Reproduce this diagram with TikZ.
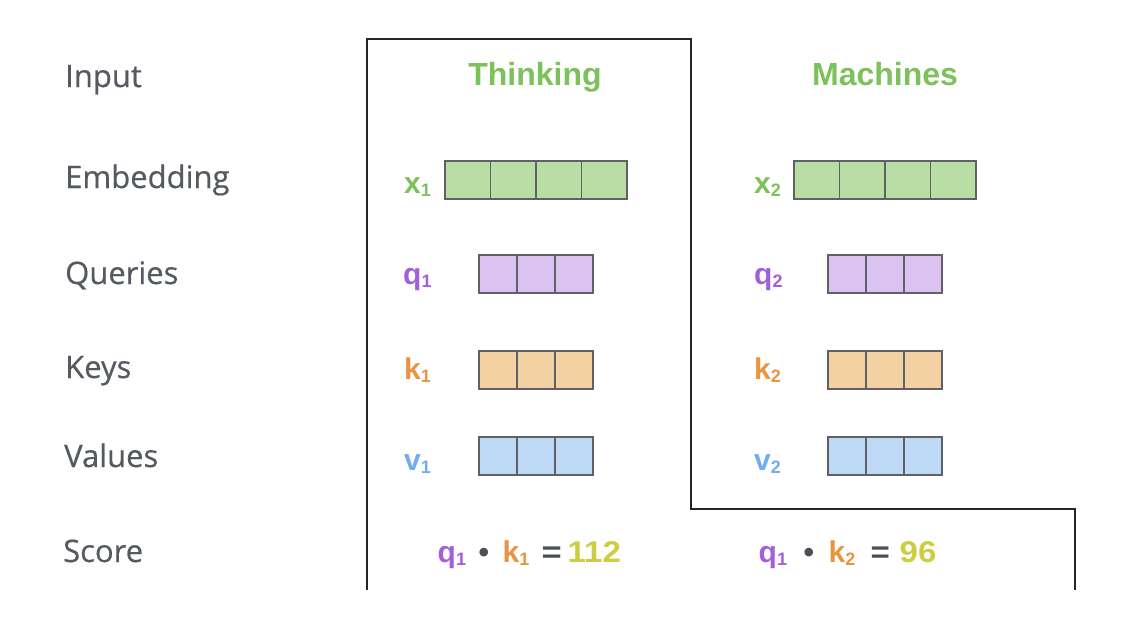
\documentclass[tikz,border=0pt]{standalone}
\usepackage{fontspec}
\newfontfamily\opensans[FakeBold=0.5]{Open Sans}
\newfontfamily\arial{Liberation Sans}
\definecolor{rowlab}{HTML}{555A61}
\definecolor{tgreen}{HTML}{7DC15A}
\definecolor{tpurple}{HTML}{A35FD8}
\definecolor{torange}{HTML}{E8953F}
\definecolor{tblue}{HTML}{6FADF0}
\definecolor{tyellow}{HTML}{CDCD42}
\definecolor{tdark}{HTML}{4A4F55}
\definecolor{fgreen}{HTML}{B9DEA5}
\definecolor{fpurple}{HTML}{DCC2F0}
\definecolor{forange}{HTML}{F3D1A3}
\definecolor{fblue}{HTML}{BFDAF7}
\definecolor{cellborder}{HTML}{5F6166}
\newcommand{\subdig}[1]{\raisebox{-3pt}{\fontsize{18}{18}\selectfont\arial #1}}
\newcommand{\putat}[2]{\makebox[0pt][l]{\hspace{#1pt}#2}}
\begin{document}
\begin{tikzpicture}[x=1pt,y=-1pt,
  rowlabel/.style={anchor=base west,inner sep=0pt,text=rowlab,font=\fontsize{31}{31}\selectfont\opensans},
  title/.style={anchor=base,inner sep=0pt,text=tgreen,font=\fontsize{32}{32}\selectfont\arial\bfseries},
  veclab/.style={anchor=base west,inner sep=0pt,font=\fontsize{30}{30}\selectfont\arial\bfseries},
  scoretxt/.style={anchor=base west,inner sep=0pt,font=\fontsize{30}{30}\selectfont\arial\bfseries},
  cell/.style={draw=cellborder,line width=1.5pt,inner sep=0pt,outer sep=0pt,minimum height=38pt,anchor=north west},
  wcell/.style={cell,minimum width=45.5pt},
  ncell/.style={cell,minimum width=38pt},
  frame/.style={draw=black!85,line width=1.3pt}
]
\useasboundingbox (0,0) rectangle (1148,634);
\fill[white] (0,0) rectangle (1148,634);

% frame
\draw[frame] (367,590) -- (367,39) -- (691,39) -- (691,509) -- (1075,509) -- (1075,590);

% row labels
\node[rowlabel] (lInput) at (65,87) {Input};
\node[rowlabel] (lEmb) at (65,188) {Embedding};
\node[rowlabel] (lQ) at (65,284) {Queries};
\node[rowlabel] (lK) at (65,378) {Keys};
\node[rowlabel] (lV) at (64,467) {Values};
\node[rowlabel] (lS) at (63,562) {Score};

% titles
\node[title] (tThinking) at (535,85) {Thinking};
\node[title] (tMachines) at (885,85) {Machines};

% vector labels
\node[veclab,text=tgreen] (x1) at (404,193) {x\subdig{1}};
\node[veclab,text=tpurple] (q1) at (403,284) {q\subdig{1}};
\node[veclab,text=torange] (k1) at (404,379) {k\subdig{1}};
\node[veclab,text=tblue] (v1) at (404,470) {v\subdig{1}};
\node[veclab,text=tgreen] (x2) at (754,193) {x\subdig{2}};
\node[veclab,text=tpurple] (q2) at (754,284) {q\subdig{2}};
\node[veclab,text=torange] (k2) at (754,379) {k\subdig{2}};
\node[veclab,text=tblue] (v2) at (754,470) {v\subdig{2}};

% cells
\foreach \i in {0,...,3} {
  \node[wcell,fill=fgreen] (xa\i) at ({445+45.5*\i},161) {};
  \node[wcell,fill=fgreen] (xb\i) at ({794+45.5*\i},161) {};
}
\foreach \i in {0,...,2} {
  \node[ncell,fill=fpurple] (qa\i) at ({479+38*\i},255) {};
  \node[ncell,fill=forange] (ka\i) at ({479+38*\i},351) {};
  \node[ncell,fill=fblue] (va\i) at ({479+38*\i},437) {};
  \node[ncell,fill=fpurple] (qb\i) at ({828+38*\i},255) {};
  \node[ncell,fill=forange] (kb\i) at ({828+38*\i},351) {};
  \node[ncell,fill=fblue] (vb\i) at ({828+38*\i},437) {};
}

% scores
\node[scoretxt] (s1) at (437,562) {%
  \putat{0}{\textcolor{tpurple}{q\subdig{1}}}%
  \putat{41}{\textcolor{tdark}{•}}%
  \putat{65}{\textcolor{torange}{k\subdig{1}}}%
  \putat{104}{\textcolor{tdark}{\scalebox{1.15}[1]{=}}}%
  \putat{130}{\textcolor{tyellow}{\scalebox{1.1}[1]{112}}}%
  \hspace{186pt}};
\node[scoretxt] (s2) at (758,562) {%
  \putat{0}{\textcolor{tpurple}{q\subdig{1}}}%
  \putat{45}{\textcolor{tdark}{•}}%
  \putat{70}{\textcolor{torange}{k\subdig{2}}}%
  \putat{112}{\textcolor{tdark}{\scalebox{1.1}[1]{=}}}%
  \putat{141}{\textcolor{tyellow}{\scalebox{1.1}[1]{96}}}%
  \hspace{178pt}};
\end{tikzpicture}
\end{document}
